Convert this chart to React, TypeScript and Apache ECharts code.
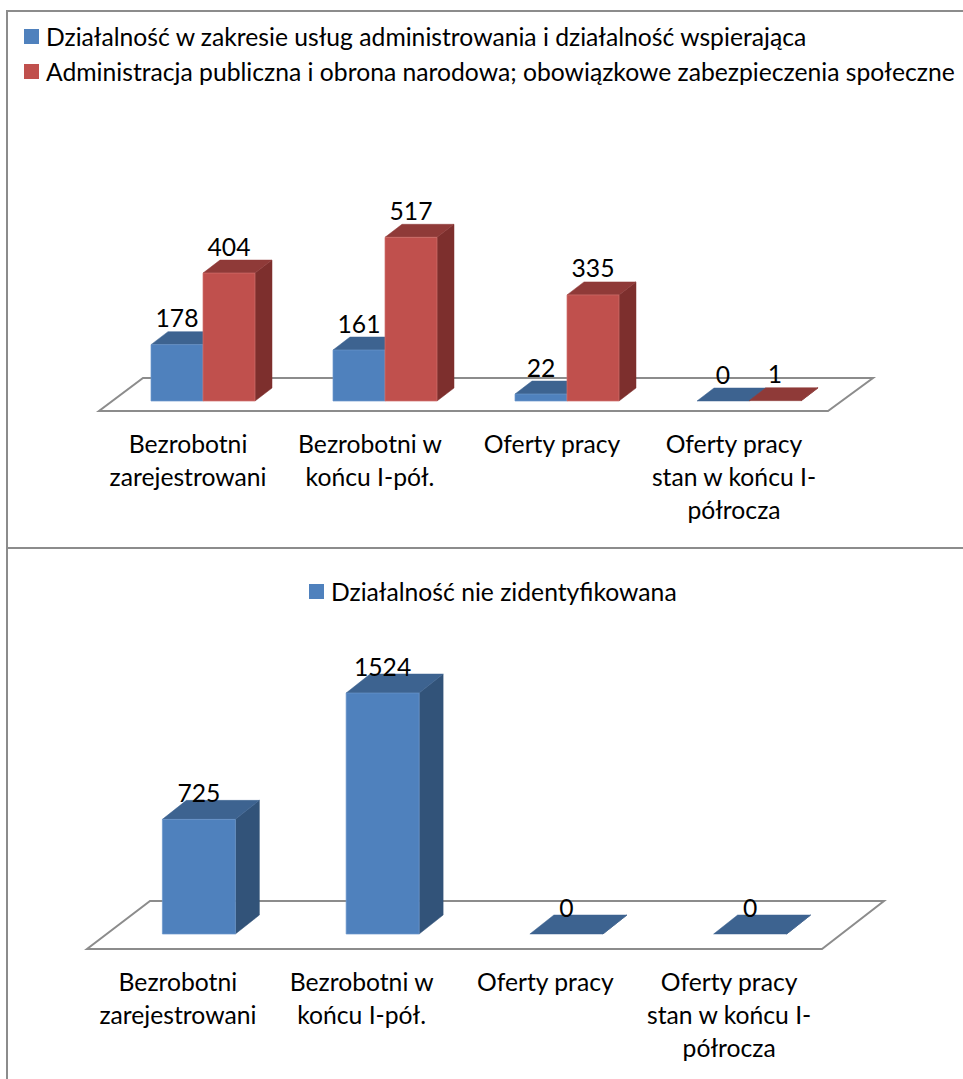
import React, { useEffect, useRef } from "react";
import * as echarts from "echarts";

const categoriesTop = ["Bezrobotni\nzarejestrowani", "Bezrobotni w\nkońcu I-pół.", "Oferty pracy", "Oferty pracy\nstan w końcu I-\npółrocza"];
const categoriesBottom = categoriesTop;
const adminSupport = [178, 161, 22, 0];
const publicAdmin = [404, 517, 335, 1];
const unidentified = [725, 1524, 0, 0];
const nameAdminSupport = "Działalność w zakresie usług administrowania i działalność wspierająca";
const namePublicAdmin = "Administracja publiczna i obrona narodowa; obowiązkowe zabezpieczenia społeczne";
const nameUnidentified = "Działalność nie zidentyfikowana";

const FONT = "Lato";
const FS = 24.7;
const BORDER = "#8c8c8c";
const BLUE = { front: "#4f81bd", top: "#3d6390", side: "#325379", edge: "#6b96cb" };
const RED = { front: "#c0504d", top: "#8f3a38", side: "#7d2f2d", edge: "#d0716e" };

const bar3d = (
  name: string,
  values: number[],
  gridIndex: number,
  pal: typeof BLUE,
  width: number,
  offset: number,
  dx: number,
  dy: number
) => ({
  type: "custom",
  name,
  xAxisIndex: gridIndex,
  yAxisIndex: gridIndex,
  itemStyle: { color: pal.front },
  silent: true,
  z: 3,
  data: values.map((v, i) => [i, v]),
  encode: { x: 0, y: 1 },
  renderItem: (_p: any, api: any) => {
    const c = api.coord([api.value(0), api.value(1)]);
    const b = api.coord([api.value(0), 0]);
    const x0 = c[0] + offset - width / 2;
    const x1 = x0 + width;
    const top = c[1];
    const base = b[1];
    const poly = (points: number[][], fill: string) => ({
      type: "polygon",
      shape: { points },
      style: { fill, stroke: fill, lineWidth: 0.5 },
    });
    const children: any[] = [
      poly([[x1, top], [x1 + dx, top - dy], [x1 + dx, base - dy], [x1, base]], pal.side),
      poly([[x0, top], [x0 + dx, top - dy], [x1 + dx, top - dy], [x1, top]], pal.top),
    ];
    if (base - top > 0.5) {
      children.push({
        type: "rect",
        shape: { x: x0, y: top, width, height: base - top },
        style: { fill: pal.front, stroke: pal.edge, lineWidth: 0.7 },
      });
    }
    children.push({
      type: "text",
      z2: 10,
      style: {
        text: String(api.value(1)),
        x: (x0 + x1) / 2,
        y: top - 27,
        align: "center",
        verticalAlign: "middle",
        fill: "#000",
        font: `${FS}px ${FONT}`,
      },
    });
    return { type: "group", children };
  },
});

const floor = (
  gridIndex: number,
  frontL: number,
  backL: number,
  frontR: number,
  backR: number,
  frontY: number,
  backY: number
) => ({
  type: "custom",
  name: "floor" + gridIndex,
  xAxisIndex: gridIndex,
  yAxisIndex: gridIndex,
  silent: true,
  z: 1,
  data: [[0, 0]],
  encode: { x: 0, y: 1 },
  renderItem: (p: any, api: any) => {
    const cs = p.coordSys;
    const base = api.coord([0, 0])[1];
    const l = cs.x;
    const r = cs.x + cs.width;
    return {
      type: "polygon",
      shape: {
        points: [
          [l + frontL, base + frontY],
          [r + frontR, base + frontY],
          [r + backR, base + backY],
          [l + backL, base + backY],
        ],
      },
      style: { fill: "#fff", stroke: BORDER, lineWidth: 2 },
    };
  },
});

const xAxis = (gridIndex: number, data: string[], margin: number, pad: number) => ({
  type: "category",
  gridIndex,
  data,
  axisLine: { show: false },
  axisTick: { show: false },
  splitLine: { show: false },
  axisLabel: {
    interval: 0,
    margin,
    hideOverlap: false,
    color: "#000",
    fontFamily: FONT,
    fontSize: FS,
    lineHeight: 33,
    align: "center",
    padding: [0, pad, 0, 0],
  },
});

const yAxis = (gridIndex: number, max: number) => ({
  type: "value",
  gridIndex,
  min: 0,
  max,
  show: false,
});

const legend = (names: string[], left: number, top: number) => ({
  data: names,
  orient: "vertical",
  left,
  top,
  padding: 0,
  itemWidth: 15,
  itemHeight: 15,
  itemGap: 10,
  icon: "rect",
  selectedMode: false,
  textStyle: { color: "#000", fontFamily: FONT, fontSize: FS, lineHeight: 22, padding: [0, 0, 0, 2] },
});

export default function App() {
  const ref = useRef<HTMLDivElement>(null);
  useEffect(() => {
    document.body.style.margin = "0";
    const chart = echarts.init(ref.current!, undefined, { renderer: "svg" });
    chart.setOption({
      animation: false,
      backgroundColor: "#fff",
      legend: [legend([nameAdminSupport, namePublicAdmin], 24, 24), legend([nameUnidentified], 309, 579)],
      grid: [
        { left: 112, top: 211, width: 728, height: 190 },
        { left: 107, top: 681, width: 735, height: 253 },
      ],
      xAxis: [xAxis(0, categoriesTop, 26, 30), xAxis(1, categoriesBottom, 31, 42)],
      yAxis: [yAxis(0, 600), yAxis(1, 1600)],
      graphic: [
        { type: "line", shape: { x1: 7, y1: 11, x2: 7, y2: 1079 }, style: { stroke: BORDER, lineWidth: 2 } },
        { type: "line", shape: { x1: 6, y1: 11, x2: 963, y2: 11 }, style: { stroke: BORDER, lineWidth: 2 } },
        { type: "line", shape: { x1: 6, y1: 548, x2: 963, y2: 548 }, style: { stroke: BORDER, lineWidth: 2 } },
      ],
      series: [
        floor(0, -13, 31, -12, 33, 10, -23),
        floor(1, -20, 43, -20, 42, 15, -33),
        bar3d(nameAdminSupport, adminSupport, 0, BLUE, 52, -26, 17, 13),
        bar3d(namePublicAdmin, publicAdmin, 0, RED, 52, 26, 17, 13),
        bar3d(nameUnidentified, unidentified, 1, BLUE, 73, 0, 24, 19),
      ],
    });
    return () => chart.dispose();
  }, []);
  return <div ref={ref} style={{ position: "fixed", left: 0, top: 0, width: 963, height: 1079 }} />;
}
